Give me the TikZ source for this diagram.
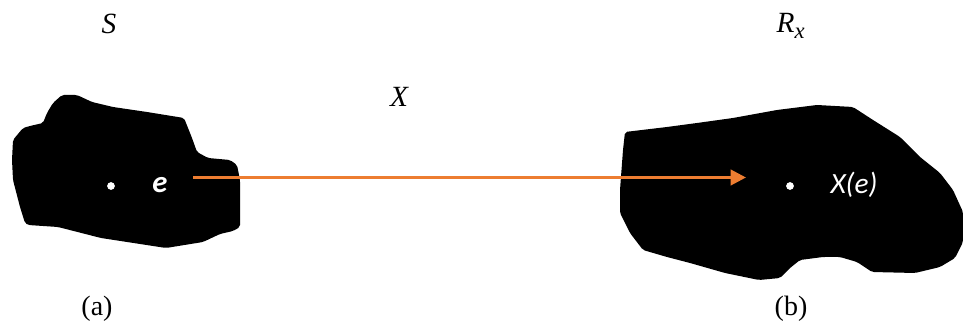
\documentclass[tikz,border=0pt]{standalone}
\usepackage{fontspec}
\setmainfont{Liberation Serif}
\newfontfamily\calfont{Carlito}
\usetikzlibrary{arrows.meta}
\definecolor{arroworange}{HTML}{ED7D31}
\begin{document}
\begin{tikzpicture}[x=0.75pt,y=-0.75pt,line cap=round,line join=round]
  \useasboundingbox (0,0) rectangle (963,327);
  \fill[black,rounded corners=1.5pt] (62,95) -- (77,95) -- (92,102) -- (113,107) -- (147,112) -- (184,118)
    -- (192,138) -- (197,152) -- (208,158) -- (230,160) -- (237,165) -- (240,180)
    -- (240,227) -- (233,231) -- (220,234) -- (203,242) -- (166,248) -- (140,244)
    -- (101,238) -- (58,227) -- (28,225) -- (25,223) -- (20,207) -- (13,180)
    -- (12,160) -- (13,140) -- (23,128) -- (30,126) -- (43,123) -- (47,113)
    -- (53,103) -- cycle;
  \fill[black,rounded corners=1.5pt] (625,132) -- (667,127) -- (697,123) -- (733,118) -- (777,110)
    -- (817,105) -- (853,107) -- (873,120) -- (900,137) -- (920,157) -- (940,173)
    -- (953,190) -- (963,212) -- (963,242) -- (955,258) -- (940,267) -- (915,273)
    -- (872,272) -- (857,262) -- (840,257) -- (823,257) -- (800,260) -- (790,268)
    -- (780,278) -- (759,280) -- (725,273) -- (690,263) -- (667,257) -- (643,250)
    -- (630,233) -- (620,213) -- (620,190) -- (623,150) -- cycle;
  \coordinate (src) at (193,177.5);
  \coordinate (dst) at (746,177.5);
  \draw[arroworange,line width=2.25pt,line cap=butt,-{Triangle[length=11.5pt,width=11.5pt]}] (src) -- (dst);
  \fill[white] (111,186) circle[radius=2.9pt];
  \fill[white] (790,186) circle[radius=2.9pt];
  \node[text=white,font=\calfont\fontsize{23}{27}\selectfont\bfseries\itshape] (e) at (160,185) {e};
  \node[text=white,font=\calfont\fontsize{22}{26}\selectfont\itshape] (Xe) at (854,185) {X(e)};
  \node[font=\fontsize{22}{26}\selectfont\itshape] (S) at (109,24) {S};
  \node[font=\fontsize{22}{26}\selectfont\itshape,anchor=west] (Rx) at (772,26)
    {R\raisebox{-0.45ex}{\fontsize{17}{20}\selectfont x}};
  \node[font=\fontsize{22}{26}\selectfont\itshape] (X) at (399,97) {X};
  \node[font=\fontsize{21}{25}\selectfont] (a) at (97,309) {(a)};
  \node[font=\fontsize{21}{25}\selectfont] (b) at (791,309) {(b)};
\end{tikzpicture}
\end{document}
